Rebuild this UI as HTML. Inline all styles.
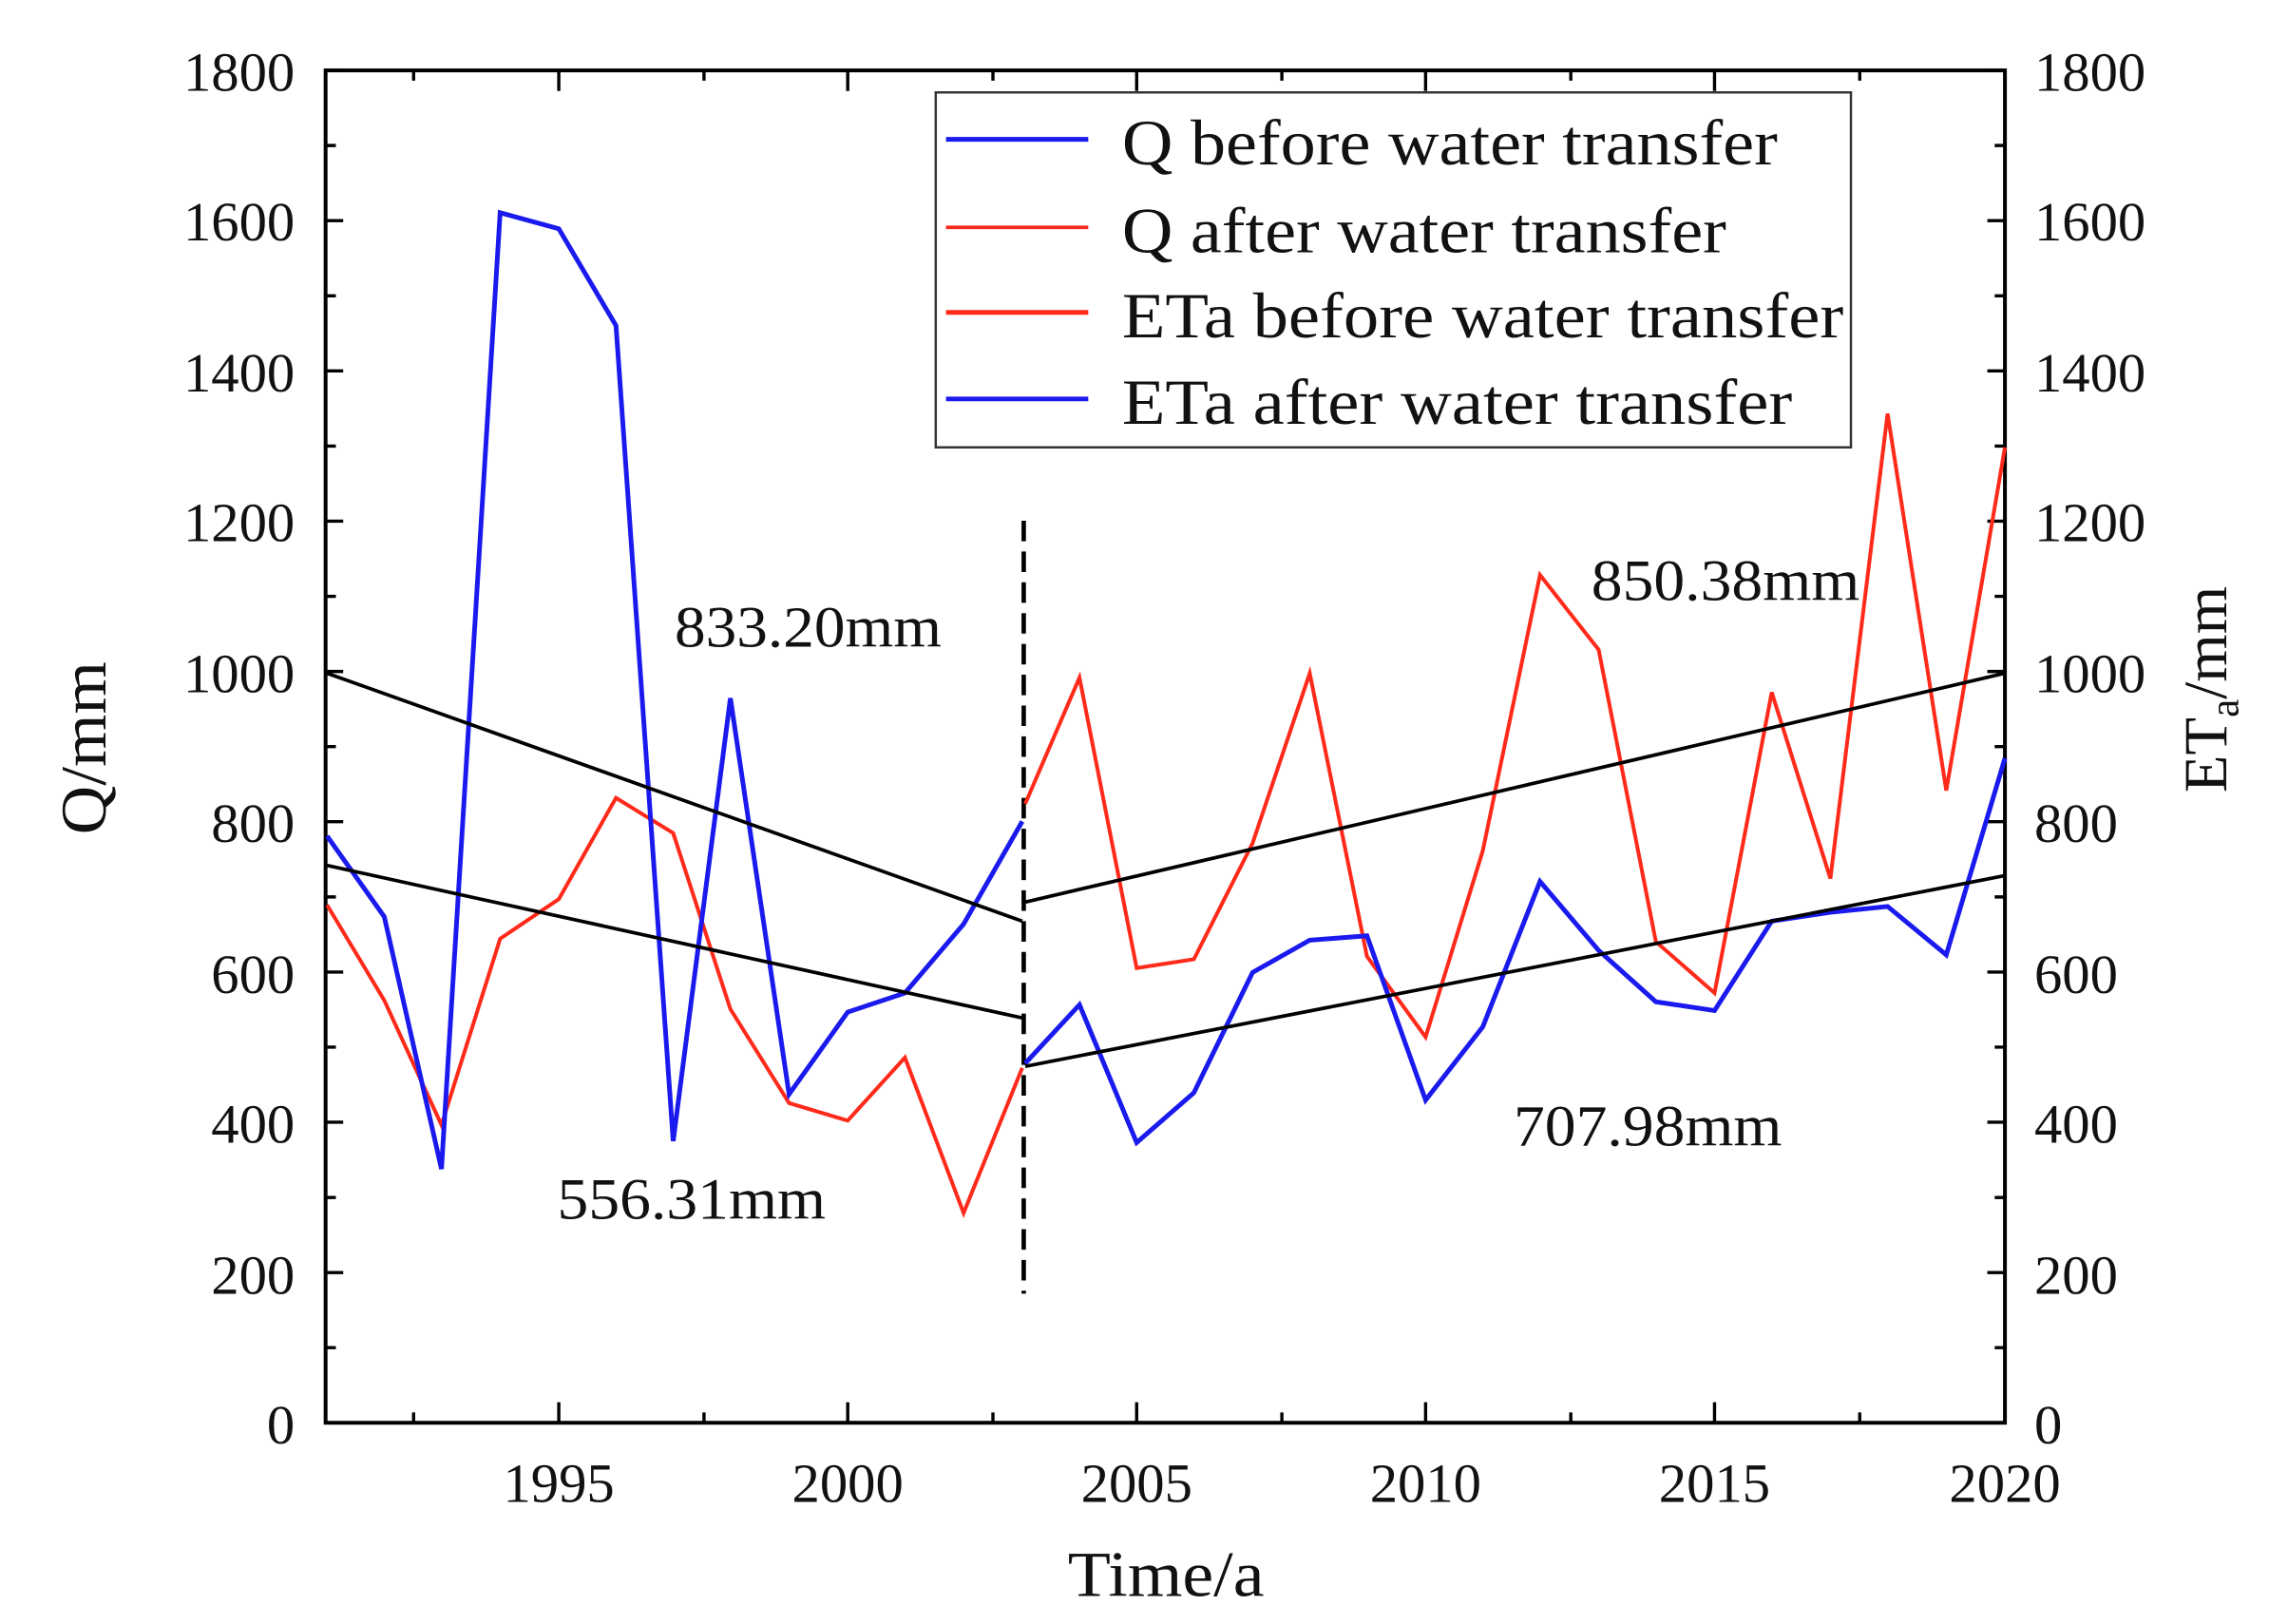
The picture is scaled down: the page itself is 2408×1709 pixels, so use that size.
<!DOCTYPE html>
<html><head><meta charset="utf-8"><style>html,body{margin:0;padding:0;background:#fff}svg{display:block}</style></head>
<body>
<svg width="2408" height="1709" viewBox="0 0 1560 1107.2" preserveAspectRatio="none" xmlns="http://www.w3.org/2000/svg" font-family="Liberation Serif, serif">
<rect width="1560" height="1108" fill="#fff"/>
<g stroke="#000" stroke-width="2.6" fill="none">
<rect x="222" y="48" width="1145" height="922"/>
</g>
<g stroke="#000" stroke-width="2.2">
<path d="M222 48h12M222 150.4h12M222 252.9h12M222 355.3h12M222 457.8h12M222 560.2h12M222 662.7h12M222 765.1h12M222 867.6h12
M1367 48h-12M1367 150.4h-12M1367 252.9h-12M1367 355.3h-12M1367 457.8h-12M1367 560.2h-12M1367 662.7h-12M1367 765.1h-12M1367 867.6h-12"/>
<path d="M222 99.2h7M222 201.7h7M222 304.1h7M222 406.6h7M222 509h7M222 611.5h7M222 713.9h7M222 816.4h7M222 918.8h7
M1367 99.2h-7M1367 201.7h-7M1367 304.1h-7M1367 406.6h-7M1367 509h-7M1367 611.5h-7M1367 713.9h-7M1367 816.4h-7M1367 918.8h-7"/>
<path d="M381 970v-14M578 970v-14M775 970v-14M972 970v-14M1169 970v-14
M381 48v14M578 48v14M775 48v14M972 48v14M1169 48v14"/>
<path d="M282 970v-7M480 970v-7M677 970v-7M874 970v-7M1071 970v-7M1268 970v-7
M282 48v7M480 48v7M677 48v7M874 48v7M1071 48v7M1268 48v7"/>
</g>
<g font-size="38" fill="#111" lengthAdjust="spacingAndGlyphs">
<g text-anchor="end">
<text x="201" y="62" textLength="76" lengthAdjust="spacingAndGlyphs">1800</text><text x="201" y="164" textLength="76" lengthAdjust="spacingAndGlyphs">1600</text><text x="201" y="267" textLength="76" lengthAdjust="spacingAndGlyphs">1400</text><text x="201" y="369" textLength="76" lengthAdjust="spacingAndGlyphs">1200</text><text x="201" y="472" textLength="76" lengthAdjust="spacingAndGlyphs">1000</text><text x="201" y="574" textLength="57" lengthAdjust="spacingAndGlyphs">800</text><text x="201" y="677" textLength="57" lengthAdjust="spacingAndGlyphs">600</text><text x="201" y="779" textLength="57" lengthAdjust="spacingAndGlyphs">400</text><text x="201" y="882" textLength="57" lengthAdjust="spacingAndGlyphs">200</text><text x="201" y="984" textLength="19" lengthAdjust="spacingAndGlyphs">0</text>
</g>
<g text-anchor="start">
<text x="1387" y="62" textLength="76" lengthAdjust="spacingAndGlyphs">1800</text><text x="1387" y="164" textLength="76" lengthAdjust="spacingAndGlyphs">1600</text><text x="1387" y="267" textLength="76" lengthAdjust="spacingAndGlyphs">1400</text><text x="1387" y="369" textLength="76" lengthAdjust="spacingAndGlyphs">1200</text><text x="1387" y="472" textLength="76" lengthAdjust="spacingAndGlyphs">1000</text><text x="1387" y="574" textLength="57" lengthAdjust="spacingAndGlyphs">800</text><text x="1387" y="677" textLength="57" lengthAdjust="spacingAndGlyphs">600</text><text x="1387" y="779" textLength="57" lengthAdjust="spacingAndGlyphs">400</text><text x="1387" y="882" textLength="57" lengthAdjust="spacingAndGlyphs">200</text><text x="1387" y="984" textLength="19" lengthAdjust="spacingAndGlyphs">0</text>
</g>
<g text-anchor="middle">
<text x="381" y="1024" textLength="76" lengthAdjust="spacingAndGlyphs">1995</text><text x="578" y="1024" textLength="76" lengthAdjust="spacingAndGlyphs">2000</text><text x="775" y="1024" textLength="76" lengthAdjust="spacingAndGlyphs">2005</text><text x="972" y="1024" textLength="76" lengthAdjust="spacingAndGlyphs">2010</text><text x="1169" y="1024" textLength="76" lengthAdjust="spacingAndGlyphs">2015</text><text x="1367" y="1024" textLength="76" lengthAdjust="spacingAndGlyphs">2020</text>
</g>
</g>
<text x="795" y="1088" font-size="44" text-anchor="middle" fill="#111" textLength="134" lengthAdjust="spacingAndGlyphs">Time/a</text>
<text transform="translate(72,510) rotate(-90)" font-size="44" text-anchor="middle" fill="#111" textLength="118" lengthAdjust="spacingAndGlyphs">Q/mm</text>
<text transform="translate(1518,470) rotate(-90)" font-size="42" text-anchor="middle" fill="#111">ET<tspan font-size="28" dy="8">a</tspan><tspan dy="-8">/mm</tspan></text>
<line x1="698" y1="355" x2="698" y2="882" stroke="#000" stroke-width="3" stroke-dasharray="14,7"/>
<g fill="none" stroke-linejoin="miter">
<polyline stroke="#ff2a1a" stroke-width="2.6" points="223,617 262,682 301,767 341,640 381,613 420,544 459,568 498,688 538,752 578,764 617,721 657,827 697,728"/>
<polyline stroke="#ff2a1a" stroke-width="2.6" points="699,548 736,462 775,660 814,654 854,575 893,459 932,652 972,707 1011,580 1050,392 1090,443 1129,642 1169,677 1208,472 1248,599 1287,282 1327,539 1367,305"/>
<polyline stroke="#1a1aee" stroke-width="3.2" points="223,570 262,625 301,797 341,145 381,156 420,222 459,778 498,476 538,746 578,690 617,677 657,630 697,560"/>
<polyline stroke="#1a1aee" stroke-width="3.2" points="699,725 736,685 775,779 814,745 854,663 893,641 932,638 972,750 1011,700 1050,601 1090,648 1129,683 1169,689 1208,628 1248,622 1287,618 1327,651 1367,517"/>
</g>
<g stroke="#000" stroke-width="2.4">
<line x1="223" y1="459" x2="697" y2="628"/>
<line x1="223" y1="590" x2="697" y2="694"/>
<line x1="699" y1="615" x2="1367" y2="459"/>
<line x1="699" y1="727" x2="1367" y2="597"/>
</g>
<g font-size="40" fill="#111">
<text x="460" y="441" textLength="182" lengthAdjust="spacingAndGlyphs">833.20mm</text>
<text x="380" y="831" textLength="183" lengthAdjust="spacingAndGlyphs">556.31mm</text>
<text x="1085" y="409" textLength="183" lengthAdjust="spacingAndGlyphs">850.38mm</text>
<text x="1032" y="781" textLength="183" lengthAdjust="spacingAndGlyphs">707.98mm</text>
</g>
<rect x="638" y="63" width="624" height="242" fill="#fff" stroke="#333" stroke-width="1.6"/>
<g stroke-width="3.2">
<line x1="645" y1="95" x2="742" y2="95" stroke="#1a1aee"/>
<line x1="645" y1="155" x2="742" y2="155" stroke="#ff2a1a" stroke-width="2.4"/>
<line x1="645" y1="213" x2="742" y2="213" stroke="#ff2a1a"/>
<line x1="645" y1="272" x2="742" y2="272" stroke="#1a1aee"/>
</g>
<g font-size="44" fill="#111">
<text x="765" y="112" textLength="447" lengthAdjust="spacingAndGlyphs">Q before water transfer</text>
<text x="765" y="172" textLength="412" lengthAdjust="spacingAndGlyphs">Q after water transfer</text>
<text x="765" y="230" textLength="492" lengthAdjust="spacingAndGlyphs">ETa before water transfer</text>
<text x="765" y="289" textLength="457" lengthAdjust="spacingAndGlyphs">ETa after water transfer</text>
</g>
</svg>
</body></html>
